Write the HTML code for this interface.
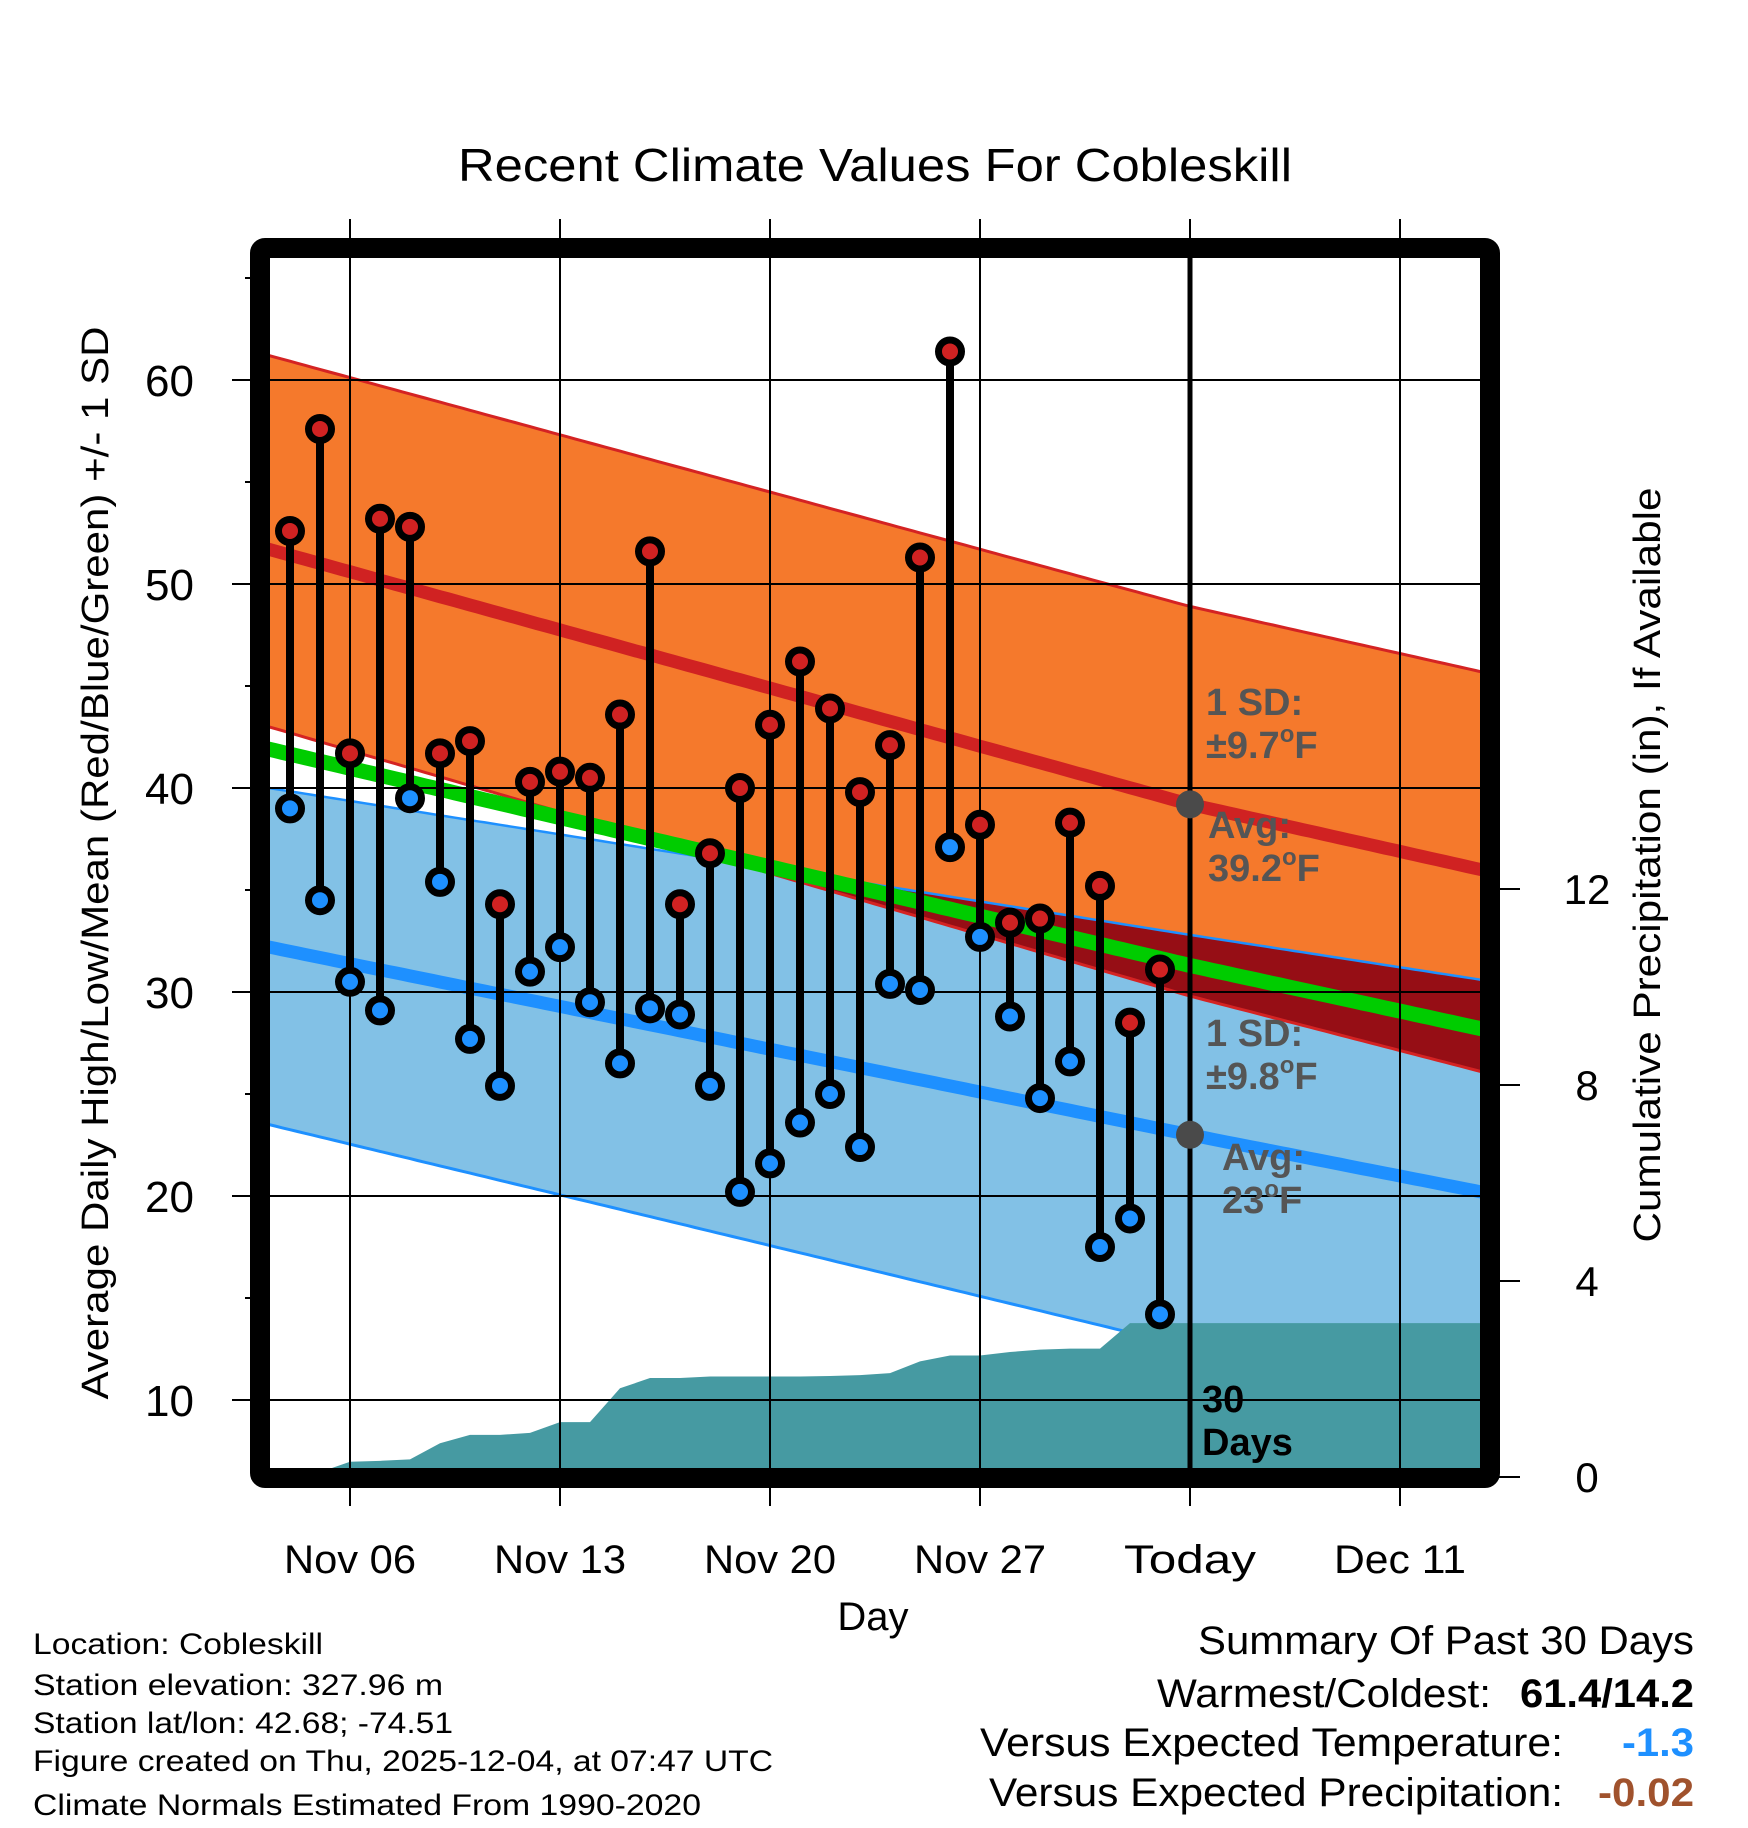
<!DOCTYPE html>
<html><head><meta charset="utf-8"><style>
html,body{margin:0;padding:0;background:#fff}
svg{display:block;font-family:"Liberation Sans",sans-serif}
</style></head><body>
<svg id="chart" width="1748" height="1828" viewBox="0 0 1748 1828" xmlns="http://www.w3.org/2000/svg">
<defs><clipPath id="plotclip"><rect x="270" y="258" width="1210" height="1210"/></clipPath></defs>
<text x="875" y="181" font-size="46" text-anchor="middle" textLength="834" lengthAdjust="spacingAndGlyphs">Recent Climate Values For Cobleskill</text>
<g id="grid"></g>
<g id="plot" clip-path="url(#plotclip)"></g>
<g id="over"></g>
<rect x="260" y="248" width="1230" height="1230" rx="5" fill="none" stroke="#000" stroke-width="20"/>
<g id="axes"></g>
<text transform="translate(108,863) rotate(-90)" font-size="38" text-anchor="middle" textLength="1073" lengthAdjust="spacingAndGlyphs">Average Daily High/Low/Mean (Red/Blue/Green) +/- 1 SD</text>
<text transform="translate(1660,865) rotate(-90)" font-size="38" text-anchor="middle" textLength="755" lengthAdjust="spacingAndGlyphs">Cumulative Precipitation (in), If Available</text>
<text x="873" y="1630" font-size="40" text-anchor="middle">Day</text>
<g font-size="30">
<text x="33" y="1654" textLength="290" lengthAdjust="spacingAndGlyphs">Location: Cobleskill</text>
<text x="33" y="1695" textLength="410" lengthAdjust="spacingAndGlyphs">Station elevation: 327.96 m</text>
<text x="33" y="1733" textLength="420" lengthAdjust="spacingAndGlyphs">Station lat/lon: 42.68; -74.51</text>
<text x="33" y="1771" textLength="740" lengthAdjust="spacingAndGlyphs">Figure created on Thu, 2025-12-04, at 07:47 UTC</text>
<text x="33" y="1815" textLength="668" lengthAdjust="spacingAndGlyphs">Climate Normals Estimated From 1990-2020</text>
</g>
<g font-size="40">
<text x="1198" y="1654" textLength="496" lengthAdjust="spacingAndGlyphs">Summary Of Past 30 Days</text>
<text x="1157" y="1707" textLength="334" lengthAdjust="spacingAndGlyphs">Warmest/Coldest:</text>
<text x="1520" y="1707" font-weight="bold" textLength="174" lengthAdjust="spacingAndGlyphs">61.4/14.2</text>
<text x="980" y="1756" textLength="583" lengthAdjust="spacingAndGlyphs">Versus Expected Temperature:</text>
<text x="1622" y="1756" font-weight="bold" fill="#1e90ff" textLength="72" lengthAdjust="spacingAndGlyphs">-1.3</text>
<text x="989" y="1806" textLength="574" lengthAdjust="spacingAndGlyphs">Versus Expected Precipitation:</text>
<text x="1598" y="1806" font-weight="bold" fill="#a0522d" textLength="96" lengthAdjust="spacingAndGlyphs">-0.02</text>
</g>
</svg>
<script>
// ---- data ----
const dayLabels = ["Nov 06","Nov 13","Nov 20","Nov 27","Today","Dec 11"];
const dayTicks = [0,7,14,21,28,35]; // days since Nov 06
const obsDays = [-2,-1,0,1,2,3,4,5,6,7,8,9,10,11,12,13,14,15,16,17,18,19,20,21,22,23,24,25,26,27];
const highs = [52.6,57.6,41.7,53.2,52.8,41.7,42.3,34.3,40.3,40.8,40.5,43.6,51.6,34.3,36.8,40.0,43.1,46.2,43.9,39.8,42.1,51.3,61.4,38.2,33.4,33.6,38.3,35.2,28.5,31.1];
const lows = [39.0,34.5,30.5,29.1,39.5,35.4,27.7,25.4,31.0,32.2,29.5,26.5,29.2,28.9,25.4,20.2,21.6,23.6,25.0,22.4,30.4,30.1,37.1,32.7,28.8,24.8,26.6,17.5,18.9,14.2];
const precip = [0,0.1,0.31,0.33,0.36,0.69,0.86,0.86,0.90,1.12,1.12,1.81,2.02,2.02,2.05,2.05,2.05,2.05,2.06,2.08,2.12,2.36,2.48,2.48,2.55,2.60,2.62,2.62,3.14,3.14];
const normDays = [-2.7,28,37.7];
const highAvg = [51.7,39.2,36.0];
const highUp = [61.2,48.9,45.7];
const highDn = [43.0,29.8,26.1];
const lowAvg = [32.2,23.0,20.2];
const lowUp = [40.0,32.8,30.6];
const lowDn = [23.5,12.6,9.2];
const meanAvg = [41.9,31.3,28.2];
const yTicks = [10,20,30,40,50,60];
const yMinor = [15,25,35,45,55,65];
const pTicks = [0,4,8,12];
// ---- scales ----
const X = d => 350 + 30*d;
const Y = t => 380 + (60 - t)*20.4;
const P = p => 1477 - p*49;
const NS = "http://www.w3.org/2000/svg";
function mk(parent, tag, attrs){const e=document.createElementNS(NS,tag);for(const k in attrs)e.setAttribute(k,attrs[k]);parent.appendChild(e);return e;}
function interp(arr, d){for(let i=0;i<normDays.length-1;i++){if(d<=normDays[i+1]||i===normDays.length-2){const f=(d-normDays[i])/(normDays[i+1]-normDays[i]);return arr[i]+f*(arr[i+1]-arr[i]);}}}
const samp=[];for(let d=-3;d<=38.01;d+=0.25)samp.push(d);
function linePts(arr){return samp.map(d=>X(d).toFixed(1)+","+Y(interp(arr,d)).toFixed(1)).join(" ");}
function bandPts(a,b){return samp.map(d=>X(d)+","+Y(interp(a,d))).concat(samp.slice().reverse().map(d=>X(d)+","+Y(interp(b,d)))).join(" ");}
const grid=document.getElementById('grid'), plot=document.getElementById('plot'), over=document.getElementById('over'), axes=document.getElementById('axes');
let e;
e=mk(plot,'polygon',{points:bandPts(lowUp,lowDn),fill:'#82c1e6'});


e=mk(plot,'polyline',{points:linePts(lowDn),fill:'none',stroke:'#1e90ff','stroke-width':3});


e=mk(plot,'polyline',{points:linePts(lowAvg),fill:'none',stroke:'#1e90ff','stroke-width':13});


e=mk(plot,'polygon',{points:bandPts(highUp,highDn),fill:'#f5792c'});


const ov = samp.map(d=>X(d)+","+Y(interp(highDn,d))).concat(samp.slice().reverse().map(d=>X(d)+","+Y(Math.max(interp(lowUp,d),interp(highDn,d))))).join(" ");
e=mk(plot,'polygon',{points:ov,fill:'#960e15'});


e=mk(plot,'polyline',{points:linePts(highUp),fill:'none',stroke:'#d42323','stroke-width':3});


e=mk(plot,'polyline',{points:linePts(highDn),fill:'none',stroke:'#d42323','stroke-width':3});


e=mk(plot,'polyline',{points:linePts(lowUp),fill:'none',stroke:'#1e90ff','stroke-width':2.5});


e=mk(plot,'polyline',{points:linePts(meanAvg),fill:'none',stroke:'#00cc00','stroke-width':15});


e=mk(plot,'polyline',{points:linePts(highAvg),fill:'none',stroke:'#d02222','stroke-width':13});


let pp=[X(obsDays[0]-0.7)+","+P(0)];
obsDays.forEach((d,i)=>pp.push(X(d)+","+P(precip[i])));
pp.push(X(40)+","+P(precip[precip.length-1]));pp.push(X(40)+","+P(0));
e=mk(plot,'polygon',{points:pp.join(" "),fill:'#469aa2'});


dayTicks.forEach((d,i)=>{
 e=mk(grid,'line',{x1:X(d),x2:X(d),y1:219,y2:1506,stroke:'#000','stroke-width':2});
 
 
 e=mk(axes,'text',{x:X(d),y:1573,'font-size':40,'text-anchor':'middle',textLength:132,lengthAdjust:'spacingAndGlyphs'});
 e.textContent=dayLabels[i];
 
 
});
dayTicks.forEach(d=>{
 e=mk(over,'line',{x1:X(d),x2:X(d),y1:258,y2:1468,stroke:'#000','stroke-width':2});
 
 
});
yTicks.forEach(t=>{
 e=mk(over,'line',{x1:232,x2:1480,y1:Y(t),y2:Y(t),stroke:'#000','stroke-width':2});
 
 
 e=mk(axes,'text',{x:194,y:Y(t)+16,'font-size':44,'text-anchor':'end'});
 e.textContent=t;
 
 
});
yMinor.forEach(t=>{
 e=mk(axes,'line',{x1:245,x2:262,y1:Y(t),y2:Y(t),stroke:'#000','stroke-width':2});
 
 
});
pTicks.forEach(p=>{
 e=mk(axes,'line',{x1:1490,x2:1520,y1:P(p),y2:P(p),stroke:'#000','stroke-width':2});
 
 
 e=mk(axes,'text',{x:1587,y:P(p)+15,'font-size':42,'text-anchor':'middle'});
 e.textContent=p;
 
 
});
e=mk(over,'line',{x1:X(28),x2:X(28),y1:258,y2:1468,stroke:'#000','stroke-width':5});


e=mk(over,'circle',{cx:X(28),cy:Y(interp(highAvg,28)),r:14,fill:'#4a4a4a'});


e=mk(over,'circle',{cx:X(28),cy:Y(interp(lowAvg,28)),r:14,fill:'#4a4a4a'});


obsDays.forEach((d,i)=>{
 e=mk(over,'line',{x1:X(d),x2:X(d),y1:Y(highs[i]),y2:Y(lows[i]),stroke:'#000','stroke-width':8});
 
 
 e=mk(over,'circle',{cx:X(d),cy:Y(highs[i]),r:11.5,fill:'#d02222',stroke:'#000','stroke-width':7});
 
 
 e=mk(over,'circle',{cx:X(d),cy:Y(lows[i]),r:11.5,fill:'#1e90ff',stroke:'#000','stroke-width':7});
 
 
});
function ann(x,y,l1,l2,name,col){
 const g=mk(over,'g',{'font-size':38,'font-weight':'bold',fill:col});
 
 
 const t1=mk(g,'text',{x:x,y:y});t1.textContent=l1;
 const t2=mk(g,'text',{x:x,y:y+43});t2.innerHTML=l2;
}
ann(1206,715,"1 SD:","±9.7<tspan dy='-16' font-size='24'>o</tspan><tspan dy='16'>F</tspan>","high-sd-annotation","#555");
ann(1208,838,"Avg:","39.2<tspan dy='-16' font-size='24'>o</tspan><tspan dy='16'>F</tspan>","high-avg-annotation","#555");
ann(1206,1046,"1 SD:","±9.8<tspan dy='-16' font-size='24'>o</tspan><tspan dy='16'>F</tspan>","low-sd-annotation","#555");
ann(1222,1170,"Avg:","23<tspan dy='-16' font-size='24'>o</tspan><tspan dy='16'>F</tspan>","low-avg-annotation","#555");
ann(1202,1412,"30","Days","days-annotation","#000");
</script>
</body></html>
